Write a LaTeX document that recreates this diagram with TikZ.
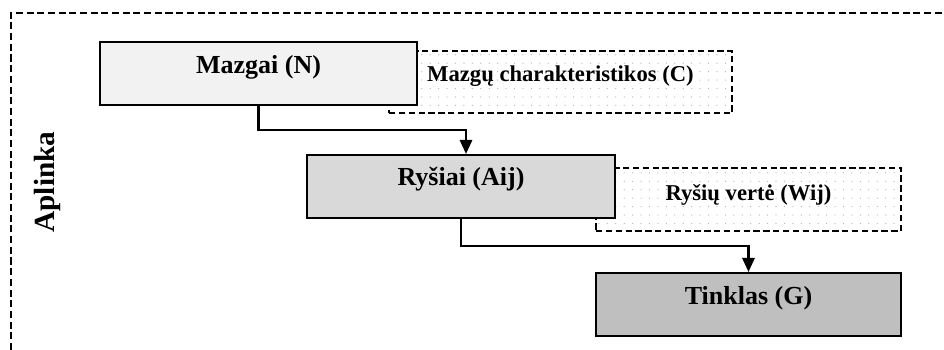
\documentclass[tikz,border=0pt]{standalone}
\usepackage{fontspec}
\setmainfont{Liberation Serif}
\usepackage{xcolor}
\usepackage{tikz}
\usetikzlibrary{positioning}
\usetikzlibrary{arrows.meta}
\usetikzlibrary{patterns.meta}
\pgfdeclarelayer{nodelayer}
\pgfdeclarelayer{edgelayer}
\pgfsetlayers{nodelayer,edgelayer,main}

\definecolor{boxlight}{HTML}{F2F2F2}
\definecolor{boxmid}{HTML}{D9D9D9}
\definecolor{boxdark}{HTML}{BFBFBF}

\tikzset{
  solidbox/.style={draw, line width=1.5pt, inner sep=0pt, minimum height=1.575cm},
  dotbox/.style={draw, line width=1.1pt, dash pattern=on 4.5pt off 2.5pt,
    pattern={Dots[distance=6pt, radius=0.45pt]}, pattern color=black!30,
    inner sep=0pt, minimum height=1.55cm},
  mainlabel/.style={font=\fontsize{18.5}{21}\selectfont\bfseries},
  sidelabel/.style={font=\fontsize{16.1}{19}\selectfont\bfseries},
  flow/.style={line width=1.5pt, -{Triangle[length=10pt, width=8.8pt]}},
}

\begin{document}
\begin{tikzpicture}
  \useasboundingbox (0, 0) rectangle (23.6, 8.75);
  \begin{pgfonlayer}{nodelayer}
    % environment border, open to the right and below
    \draw [line width=1.1pt, dash pattern=on 5pt off 2.6pt] (0.275, 0) -- (0.275, 8.425) -- (23.6, 8.425);
    \node [rotate=90, font=\fontsize{20.8}{24}\selectfont\bfseries] (9) at (1.175, 4.2) {Aplinka};

    % dotted side boxes go first, the solid ones sit on top
    \node [dotbox, minimum width=8.575cm] (5) at (14.0125, 6.7) {};
    \node [dotbox, minimum width=7.625cm, minimum height=1.575cm] (6) at (18.7125, 3.7625) {};
    \node [sidelabel] (7) at (14.0125, 6.84) {Mazgų charakteristikos (C)};
    \node [sidelabel] (8) at (18.7125, 3.875) {Ryšių vertė (Wij)};

    \node [solidbox, fill=boxlight, minimum width=7.925cm] (0) at (6.4625, 6.9125) {};
    \node [solidbox, fill=boxmid, minimum width=7.7cm] (1) at (11.525, 4.0875) {};
    \node [solidbox, fill=boxdark, minimum width=7.625cm] (2) at (18.7125, 1.1375) {};
    \node [mainlabel] (3) at (6.4625, 7.0625) {Mazgai (N)};
    \node [mainlabel] (4) at (11.525, 4.26) {Ryšiai (Aij)};
    \node [mainlabel] (10) at (18.7125, 1.3) {Tinklas (G)};
  \end{pgfonlayer}
  \begin{pgfonlayer}{edgelayer}
    \draw [flow] (0.south) -- ++(0, -0.6) -| ([xshift=1.25mm]1.north);
    \draw [flow] (1.south) -- ++(0, -0.675) -| (2.north);
  \end{pgfonlayer}
\end{tikzpicture}
\end{document}
